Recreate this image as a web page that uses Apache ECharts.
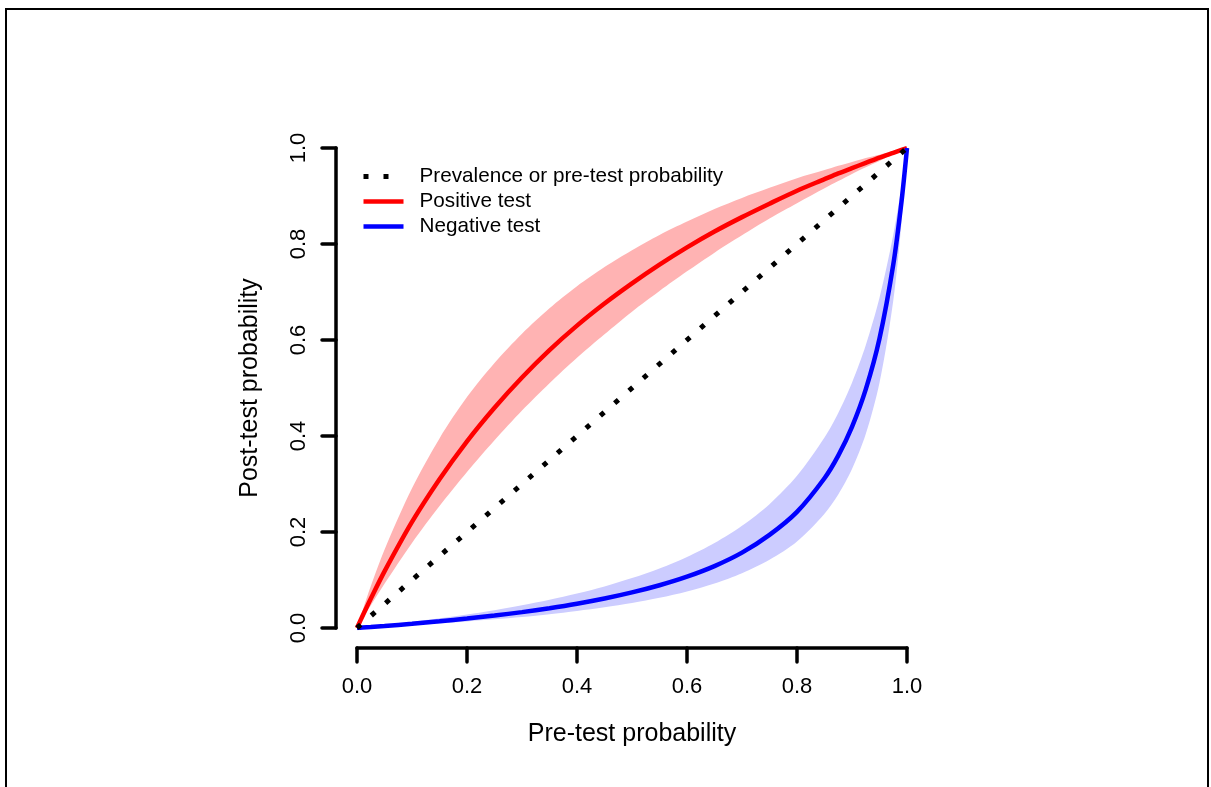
<!DOCTYPE html>
<html>
<head>
<meta charset="utf-8">
<script src="https://cdn.jsdelivr.net/npm/echarts@6/dist/echarts.min.js"></script>
<style>
  html, body { margin: 0; padding: 0; background: #ffffff; }
  #chart { width: 1211px; height: 787px; }
</style>
</head>
<body>
<div id="chart"></div>
<script>
// Pre-test probability grid (x values)
const preTest = [0, 0.01, 0.025, 0.05, 0.1, 0.15, 0.2, 0.25, 0.3, 0.35, 0.4, 0.45, 0.5,
                 0.55, 0.6, 0.65, 0.7, 0.75, 0.8, 0.85, 0.875, 0.9, 0.925, 0.95, 0.975, 0.99, 1];

// Post-test probability after a positive test, with its band
const posMid = [0, 0.025, 0.061, 0.118, 0.221, 0.310, 0.389, 0.459, 0.522, 0.579, 0.630, 0.676, 0.718,
                0.757, 0.793, 0.826, 0.856, 0.884, 0.911, 0.935, 0.947, 0.958, 0.969, 0.980, 0.990, 0.996, 1];
const posHigh = [0, 0.036, 0.087, 0.163, 0.291, 0.395, 0.481, 0.552, 0.613, 0.666, 0.712, 0.752, 0.787,
                 0.819, 0.847, 0.873, 0.896, 0.917, 0.937, 0.954, 0.963, 0.971, 0.979, 0.986, 0.993, 0.997, 1];
const posLow = [0, 0.019, 0.047, 0.092, 0.177, 0.254, 0.325, 0.391, 0.453, 0.510, 0.563, 0.612, 0.659,
                0.702, 0.743, 0.782, 0.818, 0.853, 0.885, 0.916, 0.931, 0.946, 0.960, 0.973, 0.987, 0.995, 1];

// Post-test probability after a negative test, with its band
const negMid = [0, 0.0008, 0.002, 0.0042, 0.0088, 0.0139, 0.0196, 0.026, 0.0331, 0.0413, 0.0506, 0.0614, 0.0741,
                0.0891, 0.107, 0.129, 0.157, 0.194, 0.242, 0.312, 0.359, 0.419, 0.497, 0.603, 0.757, 0.888, 1];
const negHigh = [0, 0.0012, 0.003, 0.0061, 0.0127, 0.0201, 0.0282, 0.0372, 0.0474, 0.0588, 0.0718, 0.0867, 0.104,
                 0.124, 0.148, 0.177, 0.213, 0.258, 0.317, 0.397, 0.448, 0.511, 0.589, 0.688, 0.819, 0.920, 1];
const negLow = [0, 0.0006, 0.0014, 0.0029, 0.0061, 0.0096, 0.0136, 0.018, 0.023, 0.0288, 0.0354, 0.0431, 0.0521,
                0.063, 0.0762, 0.0927, 0.114, 0.142, 0.180, 0.238, 0.278, 0.331, 0.404, 0.511, 0.682, 0.845, 1];

// Identity line: post-test equals pre-test
const identityX = [0, 1];
const identityY = [0, 1];

const pairs = (xs, ys) => xs.map((x, i) => [x, ys[i]]);

const FONT = '"Liberation Sans", Arial, Helvetica, sans-serif';

// Filled area from the x-axis up to a curve; used in layers to build the
// shaded bands (band colour under the upper edge, white under the lower edge).
function areaLayer(id, xs, ys, color, z) {
  return {
    name: id,
    type: 'line',
    z: z,
    silent: true,
    smooth: 0.3,
    symbol: 'none',
    showSymbol: false,
    lineStyle: { width: 0, opacity: 0 },
    areaStyle: { color: color, opacity: 1, origin: 'start' },
    data: pairs(xs, ys)
  };
}

const chart = echarts.init(document.getElementById('chart'), null, { renderer: 'canvas' });

const axisCommon = {
  type: 'value',
  min: 0,
  max: 1,
  interval: 0.2,
  splitLine: { show: false },
  axisLine: { show: true, onZero: false, lineStyle: { color: '#000', width: 3.5, cap: 'round' } },
  axisTick: { show: true, length: 14, lineStyle: { color: '#000', width: 3.5, cap: 'round' } },
  axisLabel: {
    color: '#000',
    fontSize: 22,
    fontFamily: FONT,
    formatter: v => v.toFixed(1)
  },
  nameLocation: 'middle',
  nameTextStyle: { color: '#000', fontSize: 25, fontFamily: FONT }
};

chart.setOption({
  backgroundColor: '#ffffff',
  animation: false,
  grid: { left: 357, right: 304, top: 148, bottom: 159, containLabel: false },
  xAxis: Object.assign({}, axisCommon, {
    name: 'Pre-test probability',
    nameGap: 74,
    offset: 20,
    axisLabel: Object.assign({}, axisCommon.axisLabel, { margin: 28 })
  }),
  yAxis: Object.assign({}, axisCommon, {
    name: 'Post-test probability',
    nameGap: 73,
    offset: 21,
    axisLabel: Object.assign({}, axisCommon.axisLabel, { margin: 26, rotate: 90 })
  }),
  legend: {
    show: true,
    orient: 'vertical',
    left: 356,
    top: 161,
    itemWidth: 40,
    itemHeight: 14,
    itemGap: 4,
    itemStyle: { opacity: 0 },
    lineStyle: { width: 4.5 },
    data: [
      { name: 'Prevalence or pre-test probability', lineStyle: { width: 5, type: [5, 15], cap: 'butt' } },
      'Positive test',
      'Negative test'
    ],
    textStyle: { color: '#000', fontSize: 20.7, fontFamily: FONT, padding: [0, 0, 0, 11] },
    selectedMode: false
  },
  graphic: [{
    type: 'rect',
    shape: { x: 6, y: 9, width: 1202, height: 800 },
    style: { fill: null, stroke: '#000', lineWidth: 2 },
    silent: true
  }],
  series: [
    areaLayer('posBandHigh', preTest, posHigh, '#FFB3B3', 1),
    areaLayer('posBandLow', preTest, posLow, '#FFFFFF', 1),
    areaLayer('negBandHigh', preTest, negHigh, '#CCCCFF', 1),
    areaLayer('negBandLow', preTest, negLow, '#FFFFFF', 1),
    {
      name: 'Positive test',
      type: 'line',
      z: 3,
      data: pairs(preTest, posMid),
      showSymbol: false,
      symbol: 'none',
      smooth: 0.3,
      color: '#FF0000',
      lineStyle: { color: '#FF0000', width: 4.5 }
    },
    {
      name: 'Negative test',
      type: 'line',
      z: 4,
      data: pairs(preTest, negMid),
      showSymbol: false,
      symbol: 'none',
      smooth: 0.3,
      color: '#0000FF',
      lineStyle: { color: '#0000FF', width: 4.5 }
    },
    {
      name: 'Prevalence or pre-test probability',
      type: 'line',
      z: 5,
      data: pairs(identityX, identityY),
      showSymbol: false,
      symbol: 'none',
      color: '#000',
      lineStyle: { color: '#000', width: 5, type: [5, 14], cap: 'butt' }
    }
  ]
});
</script>
</body>
</html>
